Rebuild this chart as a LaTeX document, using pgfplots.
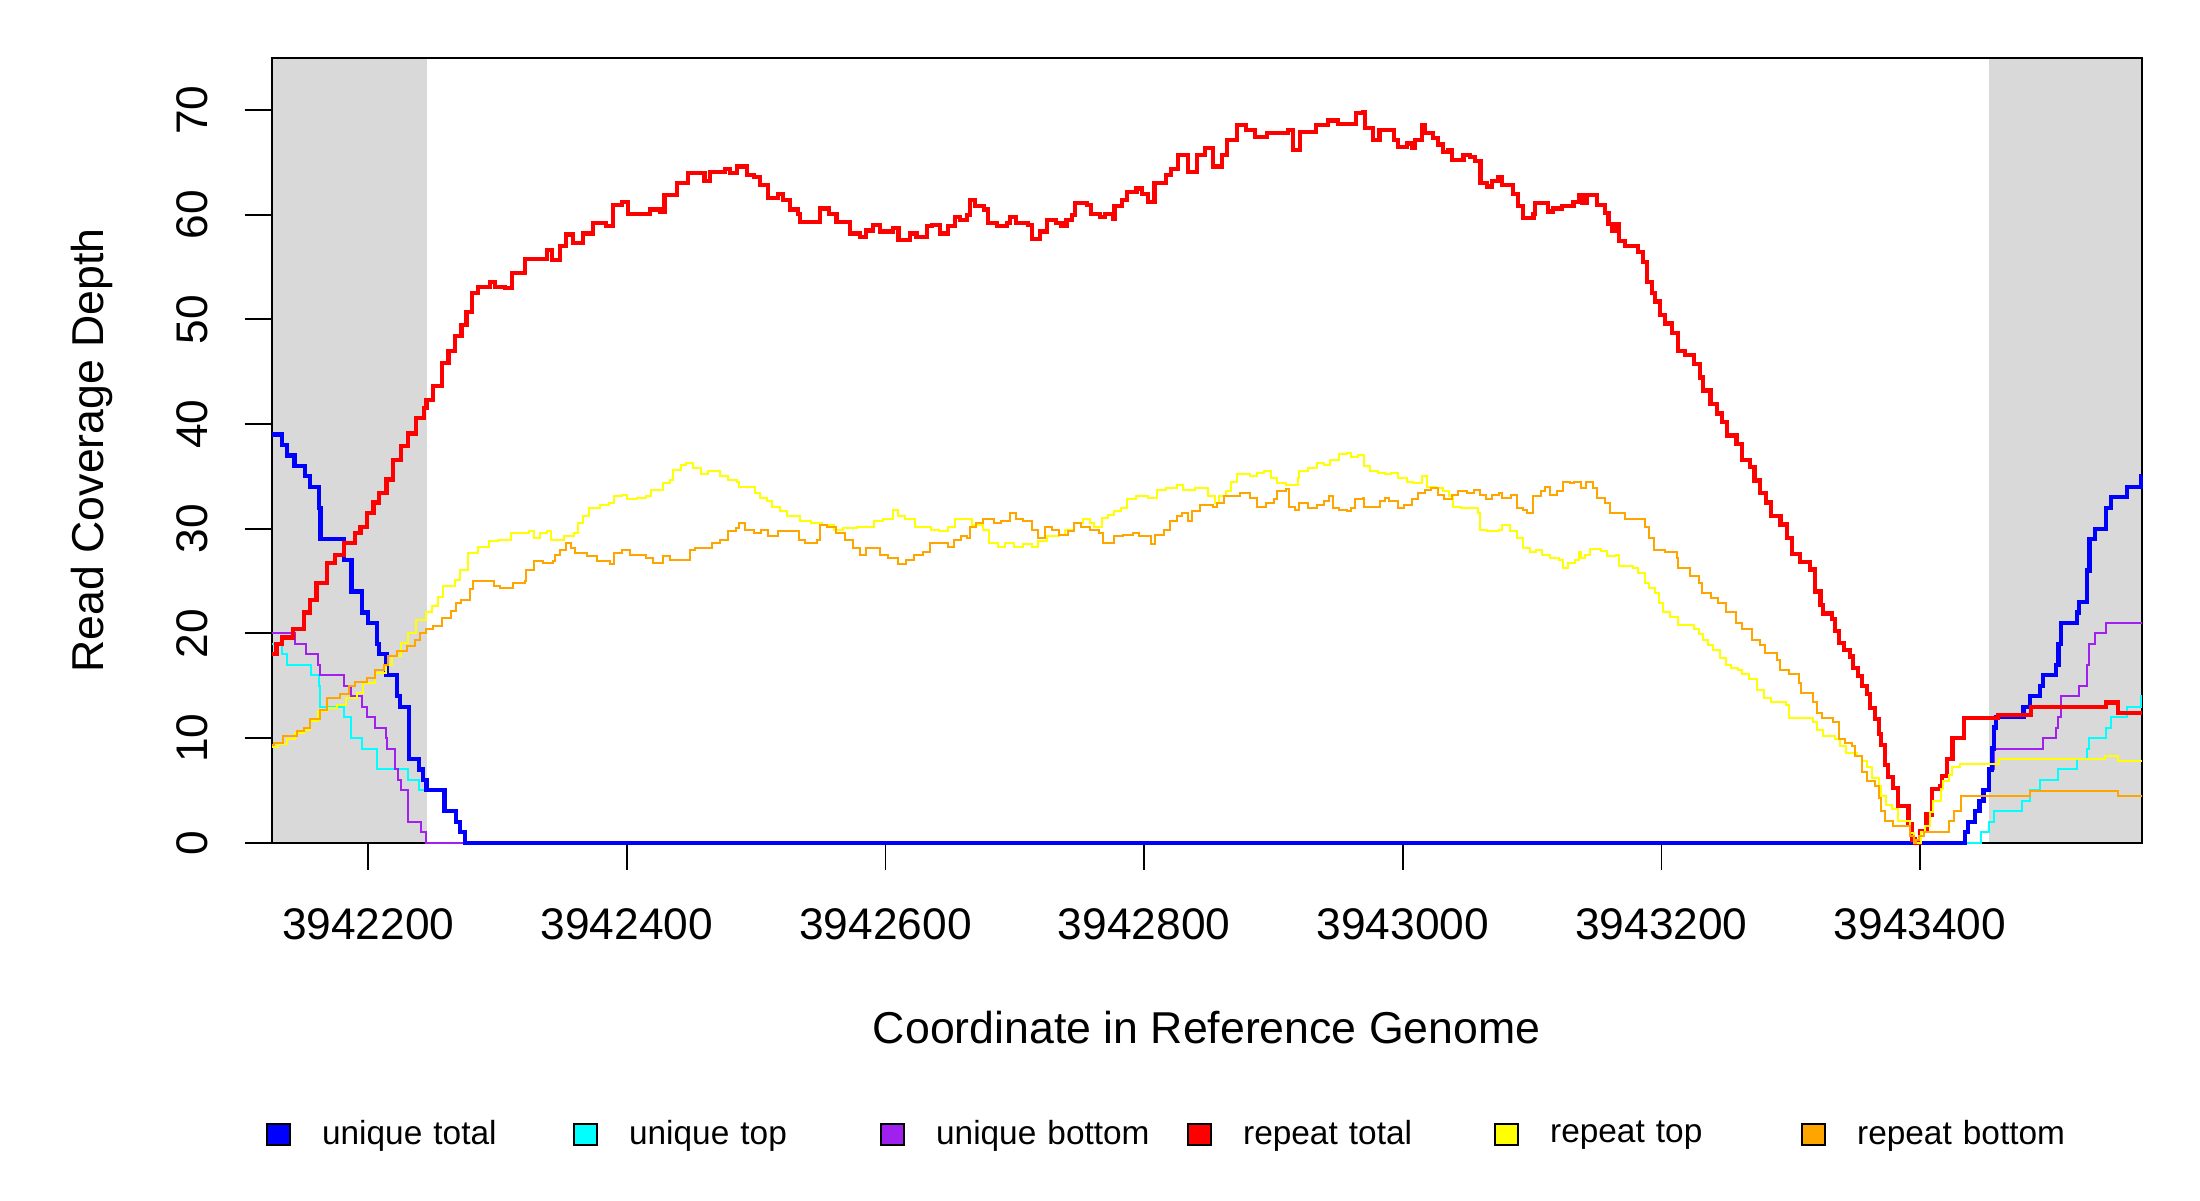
\documentclass[border=0pt]{standalone}
\usepackage{pgfplots}
\pgfplotsset{compat=1.18}
\usepackage{fontspec}
\setmainfont{Liberation Sans}
\definecolor{rblue}{RGB}{0,0,255}
\definecolor{rcyan}{RGB}{0,255,255}
\definecolor{rpurple}{RGB}{160,32,240}
\definecolor{rred}{RGB}{255,0,0}
\definecolor{ryellow}{RGB}{255,255,0}
\definecolor{rorange}{RGB}{255,165,0}
\definecolor{rgray}{RGB}{217,217,217}
\begin{document}
\begin{tikzpicture}
\begin{axis}[
  set layers,
  scale only axis,
  width=18.70cm, height=7.85cm,
  at={(0,0)}, anchor=south west,
  xmin=125.3, xmax=1571.4, ymin=0, ymax=75,
  clip=false,
  axis line style={line width=0.5pt, black},
  tick style={line width=0.5pt, black},
  tick align=outside,
  major tick length=0.27cm,
  xtick pos=left, ytick pos=left,
  xtick={200,400,600,800,1000,1200,1400},
  xticklabels={3942200,3942400,3942600,3942800,3943000,3943200,3943400},
  ytick={0,10,20,30,40,50,60,70},
  yticklabels={0,10,20,30,40,50,60,70},
  /pgf/number format/assume math mode=true,
  ticklabel style={font=\fontsize{12.6}{15}\selectfont},
  xticklabel style={anchor=north, inner sep=0pt},
  xticklabel shift=0.378cm,
  yticklabel style={rotate=90, anchor=south, inner sep=0pt},
  yticklabel shift=0.36cm,
  every axis x label/.style={at={(axis description cs:0.5,0)}, anchor=base, yshift=-2.003cm, font=\fontsize{12.7}{15}\selectfont},
  every axis y label/.style={at={(axis description cs:0,0.5)}, xshift=-1.687cm, rotate=90, anchor=base, font=\fontsize{12.7}{15}\selectfont},
  xlabel={Coordinate in Reference Genome},
  ylabel={Read Coverage Depth},
  legend columns=6,
  legend style={at={(axis description cs:0,0)}, anchor=west, xshift=-0.057cm, yshift=-2.92cm,
    draw=none, fill=none, inner sep=0pt, outer sep=0pt,
    font=\fontsize{9.5}{11.4}\selectfont, column sep=0pt, row sep=0pt,
    nodes={inner xsep=0pt, inner ysep=0pt, text width=2.509cm, align=left},
    /tikz/every odd column/.append style={column sep=0.31cm}},
]
% shaded regions
\addplot[fill=rgray, draw=none, forget plot, on layer=axis background] coordinates {(125.3,75) (245.2,75)} \closedcycle;
\addplot[fill=rgray, draw=none, forget plot, on layer=axis background] coordinates {(1453.1,75) (1571.4,75)} \closedcycle;

% unique top
\addplot[const plot, color=rcyan, line width=0.02cm, forget plot] coordinates {
(125.3,19) (133,18) (137,17) (155.5,16) (162,15) (162.6,13) (181,12) (187,10) (195,9) (206.5,7)
(231,6) (239.5,5) (259,3) (268,2) (271,1) (275,0) (1447,1) (1453.6,2) (1457,3) (1479,4)
(1485,5) (1493,6) (1507,7) (1521.5,8) (1529,9) (1531,10) (1543.5,11) (1547.5,12) (1560,13) (1571,14) (1571.4,14)};

% unique bottom
\addplot[const plot, color=rpurple, line width=0.02cm, forget plot] coordinates {
(125.3,20) (143,19) (151.6,18) (161,17) (163,16) (181,15) (187,14) (195,13) (199,12) (205,11)
(214,10) (214.7,9) (221,7) (223,6) (225,5) (231,2) (241,1) (245,0) (1435,1) (1437,2)
(1442.5,3) (1446,4) (1449,5) (1453,7) (1457,9) (1495,10) (1505,11) (1507,12) (1509,14) (1523,15)
(1529,17) (1531,19) (1535,20) (1543.5,21) (1571.4,21)};

% unique total
\addplot[const plot, color=rblue, line width=0.042cm, forget plot] coordinates {
(125.3,39) (133,38) (137,37) (143,36) (151,35) (155,34) (162,32) (163,29) (181,27) (187,24)
(195,22) (200,21) (206.5,19) (208,18) (214,16) (222,14) (224.5,13) (231.5,8) (239.5,7) (242,6)
(245,5) (259,3) (268,2) (271,1) (275,0) (1435,1) (1437,2) (1442.5,3) (1446,4) (1449,5)
(1453,7) (1455.5,9) (1457,11) (1459,12) (1480,13) (1485,14) (1493,15) (1495,16) (1505,17) (1507,19)
(1509,21) (1521.5,22) (1523,23) (1529,26) (1531,29) (1535,30) (1543.5,32) (1547.5,33) (1560,34) (1571,35) (1571.4,35)};

% repeat total
\addplot[const plot, color=rred, line width=0.042cm, forget plot] coordinates {
(125.3,18) (129,19) (133,19.6) (142,20.4) (150,22.0) (155,23.2) (160,24.8) (168,26.7) (174,27.5) (181,28.6)
(190,29.6) (194,30.2) (199,31.5) (204,32.5) (208,33.4) (214,34.7) (219,36.6) (225,37.9) (231,39.1) (237,40.6)
(243,41.5) (245,42.3) (250,43.6) (257,45.8) (262,47.0) (267,48.4) (272,49.5) (276,50.7) (280,52.5) (285,53.1)
(294,53.6) (298,53.1) (306,53.0) (311,54.4) (321,55.8) (338,56.6) (342,55.7) (348,57.0) (353,58.1) (358.5,57.3)
(366,58.2) (374,59.2) (384,58.9) (389.5,60.9) (396,61.25) (401,60.1) (418,60.5) (425.6,60.3) (429,61.9) (438.5,63.0)
(447.5,64.0) (460,63.2) (464,64.1) (476,64.4) (480,64.0) (485,64.6) (493,63.8) (498,63.6) (503,62.8) (509,61.6)
(517,62.0) (521,61.4) (526,60.5) (532.5,60.1) (534,59.3) (545,59.3) (549,60.6) (556,60.1) (562,59.3) (572.5,58.2)
(580,57.9) (585,58.5) (590.5,59.0) (596,58.4) (606,58.7) (610,57.6) (619,58.2) (624,57.9) (632,58.9) (636,59.0)
(642,58.2) (648.5,58.9) (654,59.8) (657.6,59.5) (663,60.0) (665,61.4) (669,60.8) (676,60.5) (679.5,59.2) (686,58.9)
(694,59.2) (696,59.8) (701,59.2) (710,59.0) (713,57.7) (719.5,58.4) (725,59.5) (732,59.2) (736,58.9) (740,59.5)
(744,60.0) (746.5,61.1) (755.6,60.9) (759,60.1) (766,59.8) (770,60.1) (776,59.6) (777,60.8) (783,61.4) (786.5,62.2)
(794,62.5) (798,62.0) (803,61.25) (808,63.0) (817,63.8) (821,64.4) (826,65.7) (834,64.1) (841,65.7) (847,66.35)
(853.5,64.6) (860,65.7) (864,67.1) (872,68.6) (879,68.1) (886,67.45) (895,67.8) (911.5,68.1) (915,66.2) (920.5,67.9)
(933,68.6) (942,69.0) (950,68.7) (964,69.7) (969.5,69.8) (971,68.3) (977,67.1) (982,68.1) (993,67.1) (996.5,66.5)
(1003,66.8) (1007,66.35) (1009.5,67.1) (1014.6,68.6) (1017,67.8) (1023.6,67.3) (1027.5,66.7) (1031,66.0) (1035,66.2) (1038,65.2)
(1047,65.7) (1052,65.5) (1056,65.1) (1060,63.0) (1065,62.7) (1069,63.2) (1074,63.6) (1076.5,62.8) (1085.5,62.0) (1089,60.8)
(1093,59.7) (1101,60.1) (1102,61.1) (1112.5,60.3) (1116,60.6) (1123,60.8) (1132,61.25) (1136,61.9) (1138.5,61.1) (1142,61.9)
(1150,60.9) (1156.5,60.2) (1159,59.15) (1161.6,58.5) (1164,59.15) (1167,57.45) (1172,57.0) (1182,56.4) (1186,55.5) (1189,53.6)
(1192.5,52.5) (1195,51.7) (1199,50.4) (1203,49.6) (1208,48.7) (1213,47.0) (1218,46.6) (1225,45.7) (1230,44.45) (1232,43.2)
(1238,41.9) (1243,41.0) (1247,40.2) (1250.5,38.9) (1258,38.1) (1262,36.6) (1268.5,35.9) (1272,34.6) (1276,33.4) (1281,32.5)
(1285,31.2) (1292,30.4) (1297,29.1) (1301,27.6) (1307,26.8) (1315,26.1) (1319,24.0) (1323,22.7) (1325,21.9) (1332,21.4)
(1334,20.2) (1337,19.1) (1341,18.45) (1346,17.8) (1348,16.7) (1352,15.9) (1355,15.0) (1359,14.2) (1361,12.9) (1365,11.85)
(1368,10.4) (1370,9.3) (1373,7.4) (1375.5,6.3) (1379,5.2) (1383,3.5) (1391,1.8) (1393.5,0.3) (1396,0) (1400,1.1)
(1405,2.7) (1409,5.1) (1415.5,5.4) (1417,6.4) (1421,8.0) (1425,10.0) (1434,11.9) (1460,12.2) (1486,13.0) (1544,13.4)
(1553,12.4) (1571.4,12.4)};

% repeat top
\addplot[const plot, color=ryellow, line width=0.02cm, forget plot] coordinates {
(125.3,9.1) (130,9.4) (137,9.9) (143,10.5) (150,10.8) (155,11.6) (161,12.6) (168,12.9) (176,13.2) (183,13.8)
(191,14.3) (196,15.3) (205,16.2) (214,17.0) (218,17.8) (225,19.1) (231,20.0) (237,21.3) (245,22.0) (249,22.6)
(254,23.5) (258,24.5) (267,25.1) (271,26.1) (277,27.7) (285,28.3) (293,28.8) (300,28.95) (310,29.6) (324,29.75)
(328,29.1) (333,29.6) (338,29.75) (341,28.95) (351,29.3) (359,29.6) (362,30.5) (366,31.2) (371,32.0) (379,32.3)
(386,32.5) (390,33.1) (396,33.25) (400,32.8) (408,32.9) (415,33.1) (419,33.7) (428,34.4) (433,34.7) (436,35.6)
(442,36.1) (446,36.3) (451,35.8) (457,35.2) (463,35.5) (472,35.0) (478,34.7) (485,34.5) (487,34.0) (499,33.4)
(503,32.9) (508,32.6) (512,32.1) (518,31.65) (524,31.2) (534,30.7) (542,30.5) (551,30.4) (560,29.9) (567,30.1)
(578,30.2) (591,30.7) (598,30.9) (606,31.8) (610,31.2) (615,30.9) (623,30.2) (635,29.9) (641,29.75) (648,30.2)
(654,30.9) (667,30.4) (675,29.9) (680,28.6) (687,28.3) (692,28.6) (699,28.3) (706,28.5) (713,28.3) (718,28.8)
(725,29.3) (734,29.4) (739,29.9) (746,30.5) (753,30.9) (758,30.5) (761,30.2) (767,31.0) (772,31.3) (777,31.65)
(782,32.0) (787,32.8) (794,33.1) (803,32.9) (810,33.7) (817,33.9) (825,34.2) (830,33.7) (839,33.9) (849,33.1)
(855,32.5) (858,33.1) (863,33.6) (867,34.5) (872,35.2) (882,35.0) (887,35.3) (893,35.5) (898,34.8) (903,34.4)
(910,34.2) (919,34.8) (920,35.5) (927,35.8) (934,36.3) (939,36.1) (944,36.6) (951,37.1) (957,37.2) (960,36.85)
(965,37.0) (970,35.95) (975,35.5) (981,35.3) (986,35.2) (991,35.3) (996,34.8) (1003,34.5) (1008,34.4) (1015,35.0)
(1019,34.0) (1026,33.9) (1031,33.6) (1036,33.1) (1039,32.1) (1045,32.0) (1058,31.5) (1060,29.9) (1065,29.75) (1074,29.9)
(1077,30.4) (1083,29.75) (1088,29.1) (1093,28.2) (1098,27.8) (1103,28.0) (1108,27.5) (1114,27.2) (1121,27.0) (1124,26.25)
(1128,26.7) (1133,27.0) (1136,27.8) (1138,27.2) (1141,27.5) (1145,28.05) (1153,27.9) (1158,27.4) (1165,27.5) (1167,26.4)
(1178,26.2) (1182,25.8) (1187,24.8) (1190,24.3) (1195,23.9) (1198,22.9) (1201,22.0) (1207,21.6) (1213,20.8) (1225,20.4)
(1229,19.9) (1232,19.4) (1236,18.9) (1240,18.45) (1245,17.65) (1250,17.0) (1254,16.7) (1259,16.5) (1262,16.1) (1268,15.6)
(1274,14.6) (1279,13.8) (1285,13.4) (1296,13.2) (1299,11.9) (1317,11.5) (1320,10.8) (1325,10.2) (1334,9.9) (1338,9.2)
(1343,8.6) (1351,8.3) (1355,7.8) (1359,7.2) (1363,6.2) (1368,5.4) (1370,4.45) (1374,3.65) (1378,3.2) (1383,2.1)
(1392,0.95) (1395,0) (1401,1.0) (1404,1.6) (1408,2.9) (1410,4.0) (1416,5.1) (1418,5.9) (1422,6.5) (1425,7.2)
(1431,7.5) (1461,8.0) (1543,8.3) (1553,7.85) (1571.4,7.85)};

% repeat bottom
\addplot[const plot, color=rorange, line width=0.02cm, forget plot] coordinates {
(125.3,9.3) (127,9.5) (134,10.2) (145,10.65) (150,11.0) (155,11.8) (163,12.7) (168,13.8) (178,14.2) (185,15.0)
(190,15.4) (199,15.75) (205,16.5) (212,17.0) (215,17.8) (222,18.3) (230,18.8) (236,19.4) (240,20.0) (245,20.4)
(250,20.7) (257,21.5) (264,22.1) (268,22.9) (272,23.2) (279,24.2) (281,25.0) (297,24.5) (302,24.3) (312,24.8)
(321,25.0) (322,26.1) (328,26.9) (335,26.7) (343,26.9) (344,27.5) (348,28.0) (353,28.6) (357,28.2) (360,27.7)
(369,27.4) (377,26.9) (387,26.6) (390,27.7) (396,28.0) (402,27.5) (415,27.2) (420,26.7) (428,27.4) (433,27.0)
(449,28.0) (453,28.2) (466,28.6) (472,28.95) (478,29.75) (484,30.1) (487,30.5) (491,29.9) (498,29.6) (504,29.9)
(509,29.3) (517,29.75) (533,28.95) (538,28.6) (547,28.95) (549,30.4) (555,30.2) (562,29.6) (569,28.95) (575,28.2)
(580,27.5) (585,28.2) (596,27.5) (602,27.2) (610,26.6) (616,27.0) (622,27.5) (629,27.8) (634,28.6) (648,28.3)
(653,28.95) (658,29.3) (663,29.1) (665,30.2) (670,30.5) (675,30.9) (684,30.5) (689,30.7) (696,31.5) (701,30.9)
(706,30.7) (713,29.9) (718,29.1) (723,30.2) (729,29.9) (734,29.4) (741,29.75) (746,30.5) (751,30.2) (758,29.9)
(765,29.6) (768,28.6) (777,29.3) (784,29.4) (791,29.6) (796,29.3) (805,28.5) (808,29.4) (815,29.9) (820,30.7)
(825,31.2) (829,31.5) (834,30.7) (837,31.65) (843,32.3) (853,32.1) (856,32.5) (862,33.1) (874,33.4) (882,32.9)
(887,32.1) (894,32.5) (900,32.8) (903,33.6) (910,33.8) (912,32.1) (917,31.8) (920,32.5) (927,32.0) (934,32.3)
(939,32.6) (943,33.1) (946,32.0) (951,31.8) (957,31.65) (960,32.0) (963,32.8) (969,32.9) (970,32.1) (982,32.6)
(986,32.9) (989,32.6) (996,32.0) (1001,32.3) (1007,32.8) (1012,33.4) (1017,33.7) (1022,33.9) (1027,33.25) (1032,32.8)
(1038,33.25) (1043,33.6) (1050,33.4) (1055,33.7) (1060,33.25) (1064,32.8) (1069,33.25) (1074,33.4) (1077,32.9) (1084,33.25)
(1088,32.0) (1093,31.8) (1096,31.5) (1101,33.1) (1107,33.6) (1110,34.0) (1114,33.25) (1119,33.6) (1124,34.5) (1129,34.4)
(1132,34.5) (1138,33.9) (1142,34.5) (1147,33.9) (1150,32.9) (1156,32.5) (1160,31.5) (1172,30.9) (1187,30.2) (1190,29.1)
(1194,28.0) (1203,27.8) (1212,27.2) (1213,26.25) (1222,25.45) (1229,24.8) (1231,23.9) (1238,23.4) (1244,22.9) (1250,22.0)
(1258,21.0) (1262,20.4) (1270,19.4) (1276,18.9) (1280,18.1) (1289,17.5) (1292,16.5) (1299,16.1) (1306,15.3) (1308,14.3)
(1317,13.4) (1320,12.4) (1324,11.9) (1333,11.5) (1337,9.9) (1342,9.55) (1347,9.2) (1350,8.3) (1355,6.8) (1359,5.9)
(1365,5.4) (1368,4.3) (1370,3.0) (1373,2.1) (1379,1.6) (1392,0.6) (1395,0) (1397,0.3) (1399,0.6) (1403,1.0)
(1422,2.1) (1426,3.0) (1432,4.45) (1485,4.95) (1553,4.5) (1571.4,4.5)};

% legend
\addlegendimage{legend image code/.code={\draw[black, line width=0.6pt, fill=rblue] (0cm,-0.105cm) rectangle (0.23cm,0.105cm);}}
\addlegendentry{unique total}
\addlegendimage{legend image code/.code={\draw[black, line width=0.6pt, fill=rcyan] (0cm,-0.105cm) rectangle (0.23cm,0.105cm);}}
\addlegendentry{unique top}
\addlegendimage{legend image code/.code={\draw[black, line width=0.6pt, fill=rpurple] (0cm,-0.105cm) rectangle (0.23cm,0.105cm);}}
\addlegendentry{unique bottom}
\addlegendimage{legend image code/.code={\draw[black, line width=0.6pt, fill=rred] (0cm,-0.105cm) rectangle (0.23cm,0.105cm);}}
\addlegendentry{repeat total}
\addlegendimage{legend image code/.code={\draw[black, line width=0.6pt, fill=ryellow] (0cm,-0.105cm) rectangle (0.23cm,0.105cm);}}
\addlegendentry{repeat top}
\addlegendimage{legend image code/.code={\draw[black, line width=0.6pt, fill=rorange] (0cm,-0.105cm) rectangle (0.23cm,0.105cm);}}
\addlegendentry{repeat bottom}
\end{axis}
\pgfresetboundingbox
\path[use as bounding box] (-2.717cm,-3.573cm) rectangle (19.283cm,8.427cm);
\end{tikzpicture}
\end{document}
